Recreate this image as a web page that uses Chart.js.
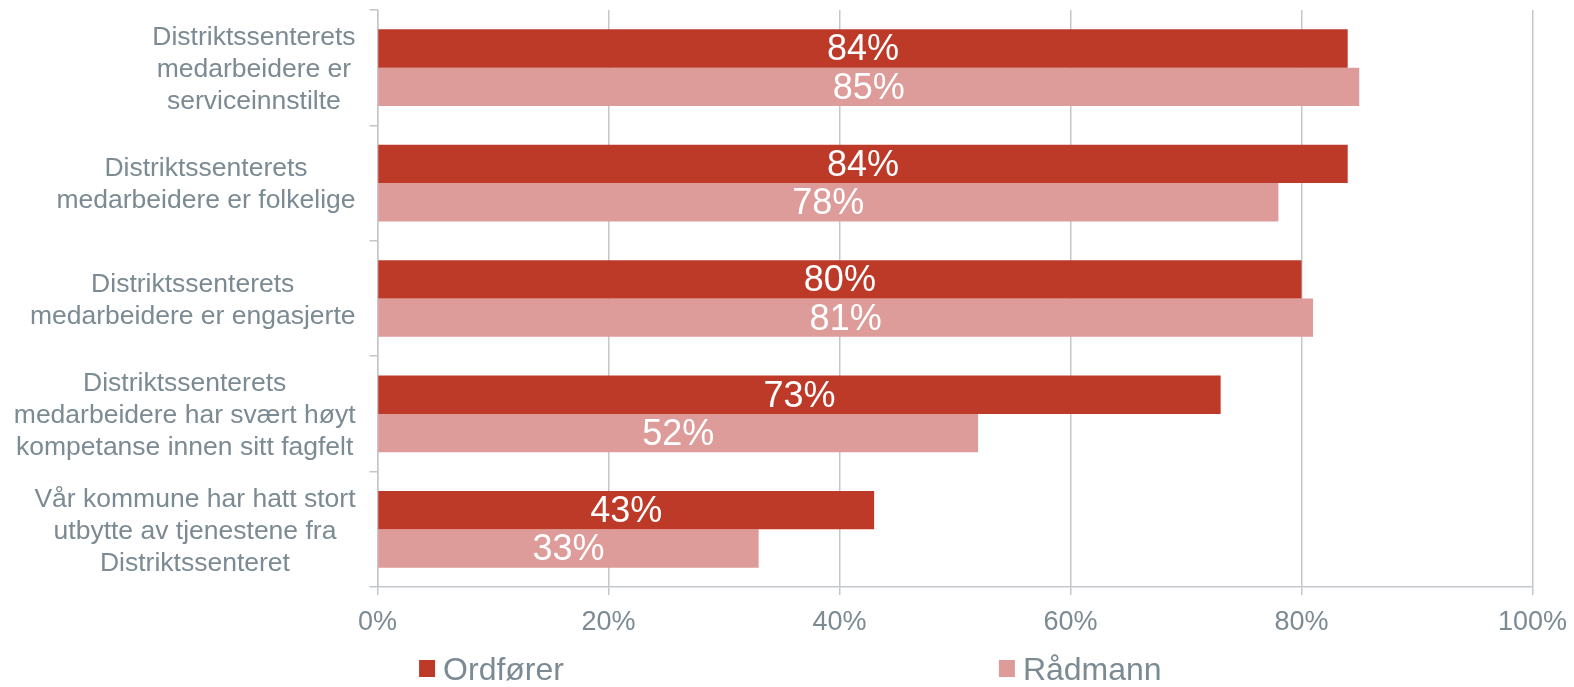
<!DOCTYPE html>
<html>
<head>
<meta charset="utf-8">
<script src="https://cdn.jsdelivr.net/npm/chart.js@4.4.1/dist/chart.umd.min.js"></script>
<style>
  html, body { margin: 0; padding: 0; background: #fff; }
  #wrap { width: 1574px; height: 687px; position: relative; }
</style>
</head>
<body>
<div id="wrap"><canvas id="barChart"></canvas></div>
<script>
// chart data
const categories = [
  ['Distriktssenterets', 'medarbeidere er', 'serviceinnstilte'],
  ['Distriktssenterets', 'medarbeidere er folkelige'],
  ['Distriktssenterets', 'medarbeidere er engasjerte'],
  ['Distriktssenterets', 'medarbeidere har svært høyt', 'kompetanse innen sitt fagfelt'],
  ['Vår kommune har hatt stort', 'utbytte av tjenestene fra', 'Distriktssenteret']
];
const seriesNames = ['Ordfører', 'Rådmann'];
const ordforerValues = [84, 84, 80, 73, 43];
const radmannValues = [85, 78, 81, 52, 33];
const xTickValues = [0, 20, 40, 60, 80, 100];

const FONT = '"Liberation Sans", Arial, sans-serif';
const TEXT_GREY = '#7b8a93';
const GRID_GREY = '#c3c7cb';
const DARK_RED = '#bd3a29';
const PINK = '#dd9b99';

// value labels in the middle of each bar
const barValueLabels = {
  id: 'barValueLabels',
  afterDatasetsDraw(chart) {
    const ctx = chart.ctx;
    ctx.save();
    ctx.font = '36px ' + FONT;
    ctx.fillStyle = '#ffffff';
    ctx.textAlign = 'center';
    ctx.textBaseline = 'middle';
    chart.data.datasets.forEach((ds, di) => {
      chart.getDatasetMeta(di).data.forEach((bar, i) => {
        ctx.fillText(ds.data[i] + '%', (bar.x + bar.base) / 2, bar.y + 2);
      });
    });
    ctx.restore();
  }
};

// multi-line category labels, centred lines, block right-aligned to the axis
const categoryLabels = {
  id: 'categoryLabels',
  afterDraw(chart) {
    const ctx = chart.ctx;
    const yScale = chart.scales.y;
    ctx.save();
    ctx.font = '26.5px ' + FONT;
    ctx.fillStyle = TEXT_GREY;
    ctx.textAlign = 'center';
    ctx.textBaseline = 'middle';
    const lineH = 32;
    categories.forEach((lines, i) => {
      const cy = yScale.getPixelForTick(i) + 2;
      const maxW = Math.max(...lines.map(l => ctx.measureText(l).width));
      const cx = yScale.right - 22 - maxW / 2;
      lines.forEach((l, j) => {
        ctx.fillText(l, cx, cy + (j - (lines.length - 1) / 2) * lineH);
      });
    });
    ctx.restore();
  }
};

// legend spread out under the plot like the original
const spreadLegend = {
  id: 'spreadLegend',
  afterDraw(chart) {
    const ctx = chart.ctx;
    const area = chart.chartArea;
    const spots = [0.036, 0.538];
    const y = chart.height - 18.5;
    ctx.save();
    ctx.font = '32px ' + FONT;
    ctx.textBaseline = 'middle';
    ctx.textAlign = 'left';
    chart.data.datasets.forEach((ds, i) => {
      const x = area.left + spots[i] * (area.right - area.left);
      ctx.fillStyle = ds.backgroundColor;
      ctx.fillRect(x, y - 8.5, 16, 17);
      ctx.fillStyle = TEXT_GREY;
      ctx.fillText(ds.label, x + 24, y + 3);
    });
    ctx.restore();
  }
};

new Chart(document.getElementById('barChart'), {
  type: 'bar',
  data: {
    labels: categories,
    datasets: [
      { label: seriesNames[0], data: ordforerValues, backgroundColor: DARK_RED },
      { label: seriesNames[1], data: radmannValues, backgroundColor: PINK }
    ]
  },
  options: {
    indexAxis: 'y',
    responsive: true,
    maintainAspectRatio: false,
    animation: false,
    layout: { padding: { top: 10, right: 41.5, left: 21.5, bottom: 50 } },
    datasets: { bar: { categoryPercentage: 0.665, barPercentage: 1.0 } },
    plugins: { legend: { display: false }, tooltip: { enabled: false } },
    scales: {
      x: {
        min: 0,
        max: 100,
        afterBuildTicks: s => { s.ticks = xTickValues.map(v => ({ value: v })); },
        ticks: {
          callback: v => v + '%',
          color: TEXT_GREY,
          font: { family: FONT, size: 27 },
          padding: 11,
          maxRotation: 0
        },
        grid: { color: GRID_GREY, lineWidth: 1.5, tickLength: 8 },
        border: { color: GRID_GREY, width: 1.5 },
        afterFit: s => { s.height = 50; s.paddingLeft = 0; s.paddingRight = 0; }
      },
      y: {
        ticks: { display: false },
        grid: { offset: true, drawOnChartArea: false, color: GRID_GREY, lineWidth: 1.5, tickLength: 8 },
        border: { color: GRID_GREY, width: 1.5 },
        afterFit: s => { s.width = 356; }
      }
    }
  },
  plugins: [barValueLabels, categoryLabels, spreadLegend]
});
</script>
</body>
</html>
